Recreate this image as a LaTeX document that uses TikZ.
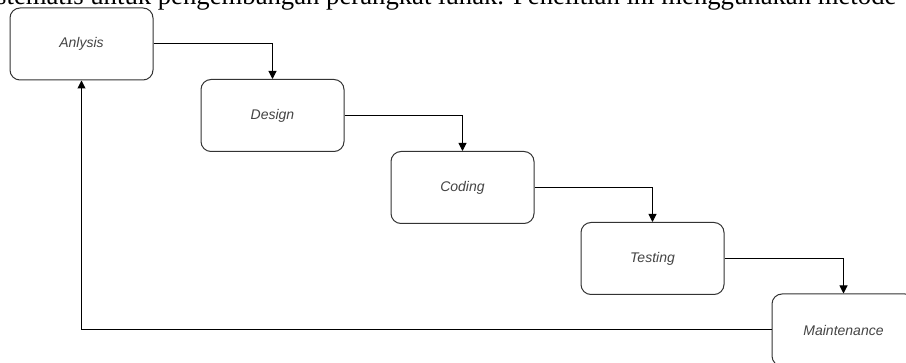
\documentclass[tikz,border=0pt]{standalone}
\usepackage{fontspec}
\setmainfont{Liberation Serif}
\newfontfamily\labelfont{Liberation Sans}
\usetikzlibrary{arrows.meta}
\definecolor{edgegray}{HTML}{333333}
\definecolor{textgray}{HTML}{444444}
\tikzset{
  phase/.style={draw=edgegray, line width=1pt, rounded corners=10pt,
    minimum width=143pt, minimum height=72pt, inner sep=0pt,
    font=\labelfont\itshape\fontsize{14}{16}\selectfont, text=textgray},
  flow/.style={draw=black, line width=1pt, -{Triangle[length=8pt,width=8pt]}}
}
\begin{document}
\begin{tikzpicture}[x=1pt,y=-1pt]
  \clip (0,0) rectangle (906,363);
  \fill[white] (0,0) rectangle (906,363);
  % running text of the page above the figure
  \node[anchor=base west, inner sep=0pt, font=\fontsize{26.7}{30}\selectfont] (para) at (-4,5)
    {stematis untuk pengembangan perangkat lunak. Penelitian ini menggunakan metode};
  % waterfall phases
  \node[phase] (ana) at (81.5,44) {Anlysis};
  \node[phase] (des) at (272.5,115.5) {Design};
  \node[phase] (cod) at (462.5,187.5) {Coding};
  \node[phase] (tes) at (652.5,258.5) {Testing};
  \node[phase] (mai) at (843.5,330) {Maintenance};
  % step-down connectors
  \draw[flow] (ana.east) -| (des.north);
  \draw[flow] (des.east) -| (cod.north);
  \draw[flow] (cod.east) -| (tes.north);
  \draw[flow] (tes.east) -| (mai.north);
  % feedback to the first phase
  \draw[flow] (mai.west) -| (ana.south);
\end{tikzpicture}
\end{document}
